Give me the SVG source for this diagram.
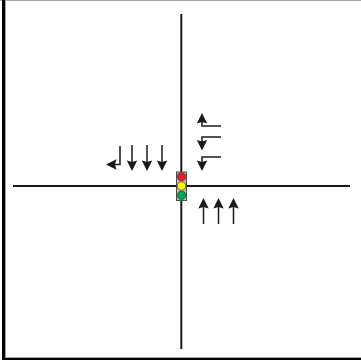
<svg xmlns="http://www.w3.org/2000/svg" width="361" height="360" viewBox="0 0 361 360">
<style>
.road{stroke:#1a1a1a;stroke-width:2;fill:none}
.sh{stroke:#1a1a1a;stroke-width:1.5;fill:none}
.hd{fill:#1a1a1a}
.lamp{stroke:#333;stroke-width:.6}
</style>
<defs>
<path id="dh" d="M0 0L-5.200 -10.500L0 -9L5.200 -10.500Z" class="hd"/>
<path id="uh" d="M0 0L-5.200 10.500L0 9L5.200 10.500Z" class="hd"/>
</defs>
<rect width="361" height="360" fill="#fff"/>
<g id="frame">
<rect x="0" y="0" width="361" height="1" fill="#a6a6a6"/>
<rect x="2" y="0" width="3" height="360" fill="#000"/>
<rect x="5" y="1" width="1" height="356" fill="#a6a6a6"/>
<rect x="2" y="358" width="359" height="2" fill="#000"/>
<rect x="5" y="357" width="356" height="1" fill="#a6a6a6"/>
</g>
<g id="connectors">
<path class="road" d="M13 186H350"/>
<path class="road" d="M181.300 14V349"/>
</g>
<g id="signal">
<rect x="176.500" y="172" width="10" height="28.500" fill="#b5b5b5" stroke="#4d4d4d" stroke-width="1"/>
<circle class="lamp" cx="181.500" cy="176.800" r="4.200" fill="#ee1c25"/>
<circle class="lamp" cx="181.500" cy="186" r="4.200" fill="#fff200"/>
<circle class="lamp" cx="181.500" cy="195.300" r="4.200" fill="#00a651"/>
</g>
<g id="southbound">
<path class="sh" d="M132 145V165M147 145V165M162 145V165"/>
<use href="#dh" x="132" y="171"/>
<use href="#dh" x="147" y="171"/>
<use href="#dh" x="162" y="171"/>
<path class="sh" d="M120 146V164.500H110"/>
<path class="hd" d="M106 164.500L116.500 159.300L115 164.500L116.500 169.700Z"/>
</g>
<g id="northbound">
<path class="sh" d="M203.500 204V224M218.500 204V224M233.500 204V224"/>
<use href="#uh" x="203.500" y="198"/>
<use href="#uh" x="218.500" y="198"/>
<use href="#uh" x="233.500" y="198"/>
</g>
<g id="westbound">
<path class="sh" d="M202 119V126H221"/>
<use href="#uh" x="202" y="113"/>
<path class="sh" d="M221 137H202V145"/>
<use href="#dh" x="202" y="150.500"/>
<path class="sh" d="M221 157H202V165"/>
<use href="#dh" x="202" y="171"/>
</g>
</svg>
